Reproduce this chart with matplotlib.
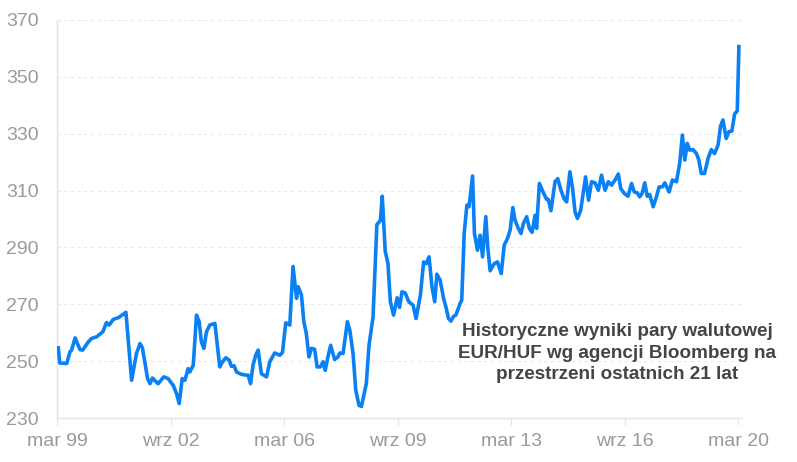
import matplotlib
matplotlib.use("Agg")
import matplotlib.pyplot as plt

# months counted from March 1999, EUR/HUF rate
months = [0.5, 1, 3.6, 4.8, 5.4, 6.7, 8.5, 9.5, 11.6, 12.8, 14.7, 17, 18.3, 19.3, 20.8,
          22.7, 25.5, 27.6, 29.4, 30.7, 31.6, 33.5, 34.4, 35.3, 37.4, 39.5, 41.1, 43,
          44.2, 45.2, 46.3, 47.3, 48.5, 49.1, 50.4, 51.6, 52.6, 53.4, 54.3, 55.3, 56.5,
          58.4, 60.2, 61.2, 62.4, 63.7, 64.5, 65.5, 66.4, 68.2, 70, 70.7, 71.6, 72.5,
          73.5, 74.4, 75.6, 77.5, 78.7, 80.5, 82.4, 83.4, 84.6, 86.1, 87.3, 88.6, 89.2,
          90.4, 91.3, 92.2, 93.2, 94.1, 95.3, 96.2, 97.4, 98.4, 99.2, 100.2, 101.2,
          102.7, 103.9, 104.6, 105.8, 107.4, 108.3, 109.5, 110.5, 111.7, 112.6, 114.4,
          115.4, 116.9, 118.3, 119.6, 120.3, 121.4, 122.4, 123.3, 124.5, 125.8, 126.7,
          127.6, 128.8, 130.1, 131.7, 132.8, 134.4, 135.6, 136.6, 137.6, 138.7, 139.7,
          140.5, 141.7, 143, 144, 144.8, 145.7, 146.7, 147.5, 149.1, 149.7, 150.6,
          151.6, 152.4, 153.7, 154.4, 155.5, 156.5, 157.4, 158.6, 159.3, 160.2, 161.7,
          162.9, 164.3, 165.4, 166.6, 167.6, 168.6, 169.4, 170.6, 171.6, 172.5, 173.7,
          174.7, 175.7, 176.8, 177.4, 178.4, 179.9, 181.1, 181.7, 182.7, 184.2, 185.2,
          186.4, 187.5, 188.5, 189.7, 190.7, 191.6, 192.5, 193.7, 194.4, 195.5, 196.6,
          197.7, 199, 200.2, 201.4, 202.7, 203.9, 205.1, 206.4, 207.6, 208.5, 209.8,
          211.2, 212.5, 213.5, 214.6, 215.5, 216.4, 217.4, 218.3, 219.2, 220.5, 221.7,
          222.7, 223.9, 224.8, 226.4, 227.6, 229.1, 230.3, 231.3, 232.2, 233.1, 234,
          235.2, 236.5, 237.4, 238.3, 239.5, 240.8, 242, 243.2, 244.5, 245.4, 246.3,
          247.5, 248.5, 249.6, 250.6, 251.6, 252.2]
eurhuf = [254.7, 249.4, 249.2, 253.3, 253.9, 258.2, 254.1, 253.9, 256.8, 258, 258.6,
          260.4, 263.6, 262.7, 264.7, 265.3, 267.2, 243.3, 252.7, 256.2, 254.7, 243.9,
          242.1, 244.1, 242.1, 244.5, 243.9, 241.5, 238.6, 235.1, 243.9, 243.3, 247.4,
          246.2, 248.6, 266.2, 263.9, 256.8, 254.5, 260.4, 262.7, 263.3, 248, 249.8,
          251.2, 250.4, 248.2, 248.4, 246.2, 245.4, 245.1, 245.1, 242.1, 248.6, 252.1,
          253.9, 245.6, 244.5, 249.8, 252.9, 252.1, 253.1, 263.5, 262.7, 283.3, 272.1,
          276.2, 273.3, 263.9, 259.8, 251.5, 254.5, 254.2, 248, 248, 249.8, 246.8,
          251.5, 255.6, 250.6, 251.5, 252.9, 252.7, 263.9, 260.9, 252.7, 239.8, 234.5,
          234.1, 242.1, 255.6, 265.6, 298, 299.5, 308, 288.6, 284.5, 270.9, 266.2,
          272.3, 268.9, 274.4, 274, 270.9, 269.7, 265, 273.2, 284.9, 284.3, 286.7,
          276.1, 270.9, 280.6, 278.5, 272, 268.5, 265, 264.1, 265.8, 266.2, 270.3,
          271.5, 294.9, 304.9, 304.3, 315.1, 294.9, 289, 294.3, 286.7, 300.8, 290.2,
          281.8, 284.3, 284.9, 280.8, 290.8, 293.1, 296.1, 304, 299.6, 296.7, 294.9,
          298.4, 300.8, 296.7, 295.3, 301.3, 296.7, 312.5, 309.2, 306.9, 306.9, 302.9,
          313.1, 314.2, 310.1, 307.2, 306, 316.6, 310.7, 302.5, 300.2, 303.1, 307.8,
          314.8, 306.6, 313.1, 312.7, 310.1, 315.4, 310.1, 313.1, 311.9, 313.7, 315.8,
          310.7, 309, 308, 312.5, 309.5, 309.2, 307.8, 309, 312.7, 308, 308.6, 304.3,
          307.8, 311.3, 311.3, 312.7, 309.5, 313.7, 313.1, 319.5, 329.5, 320.7, 326.6,
          324.2, 324.4, 323, 320.7, 316, 316, 321.3, 324.4, 323, 326, 332.6, 334.8,
          328.3, 330.7, 330.9, 336.9, 338, 360.6]

tick_months = [0, 42, 84, 126, 168, 210, 252]
tick_labels = ["mar 99", "wrz 02", "mar 06", "wrz 09", "mar 13", "wrz 16", "mar 20"]
y_ticks = [230, 250, 270, 290, 310, 330, 350, 370]

plt.rcParams['font.family'] = ['Liberation Sans', 'DejaVu Sans']

fig = plt.figure(figsize=(7.97, 4.62), dpi=100)
ax = fig.add_axes([0.0715, 0.095, 0.860, 0.862])

ax.plot(months, eurhuf, color='#0A80F5', lw=2.6, solid_joinstyle='round', zorder=3)

ax.set_xlim(0, 253.5)
ax.set_ylim(230, 370)
ax.set_xticks(tick_months)
ax.set_xticklabels(tick_labels)
ax.set_yticks(y_ticks)

for y in y_ticks[1:]:
    ax.axhline(y, color='#e8e8f2', lw=0.8, ls=(0, (3, 3)), zorder=1)

for s in ['top', 'right']:
    ax.spines[s].set_visible(False)
for s in ['left', 'bottom']:
    ax.spines[s].set_color('#e3e3ee')
    ax.spines[s].set_linewidth(1.0)

ax.tick_params(axis='y', length=0, pad=13, labelsize=14, labelcolor='#9a9a9a')
ax.tick_params(axis='x', length=5, color='#e3e3ee', pad=6, labelsize=14,
               labelcolor='#9a9a9a')

ax.text(0.817, 0.088,
        "Historyczne wyniki pary walutowej\nEUR/HUF wg agencji Bloomberg na\nprzestrzeni ostatnich 21 lat",
        transform=ax.transAxes, ha='center', va='bottom', fontsize=13.6,
        fontweight='bold', color='#454545', linespacing=1.33, zorder=4)

fig.savefig('out.png', dpi=100)
